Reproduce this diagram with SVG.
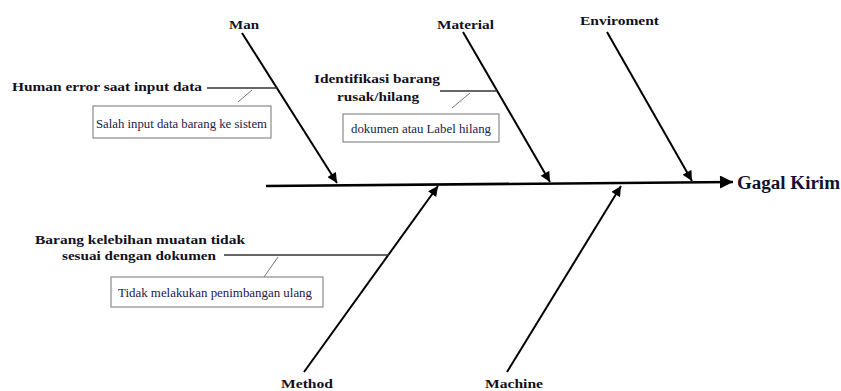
<svg xmlns="http://www.w3.org/2000/svg" width="841" height="391" viewBox="0 0 841 391">
<defs>
<marker id="ah" viewBox="0 0 10 10" refX="10" refY="5" markerWidth="5.5" markerHeight="5" orient="auto" markerUnits="strokeWidth">
<path d="M0,0 L10,5 L0,10 Z" fill="#000"/>
</marker>
</defs>
<style>
.bone{stroke:#000;stroke-width:2;fill:none}
.spine{stroke:#000;stroke-width:2.6;fill:none}
.sub{stroke:#333;stroke-width:1.3;fill:none}
.tick{stroke:#777;stroke-width:1;fill:none}
.box{fill:#fff;stroke:#8a8a8a;stroke-width:1.2}
text{font-family:"Liberation Serif","Times New Roman","DejaVu Serif",serif}
.cat{font-weight:bold;font-size:13px;fill:#111122}
.cause{font-weight:bold;font-size:13.5px;fill:#111122}
.det{font-size:11.5px;fill:#22224a}
.head{font-weight:bold;font-size:18px;fill:#111133}
</style>
<rect width="841" height="391" fill="#fff"/>
<g id="connectors">
<line class="spine" x1="266" y1="186" x2="733" y2="182" marker-end="url(#ah)"/>
<line class="bone" x1="242" y1="33" x2="337" y2="183" marker-end="url(#ah)"/>
<line class="bone" x1="463" y1="32" x2="550" y2="182" marker-end="url(#ah)"/>
<line class="bone" x1="607" y1="32" x2="692" y2="181" marker-end="url(#ah)"/>
<line class="bone" x1="304" y1="372" x2="438" y2="186" marker-end="url(#ah)"/>
<line class="bone" x1="507" y1="372" x2="621" y2="186" marker-end="url(#ah)"/>
<line class="sub" x1="207" y1="88" x2="277" y2="88"/>
<line class="tick" x1="252" y1="90" x2="238" y2="102"/>
<line class="sub" x1="440" y1="91" x2="497" y2="91"/>
<line class="tick" x1="470" y1="93" x2="452" y2="108"/>
<line class="sub" x1="224" y1="255" x2="389" y2="255"/>
<line class="tick" x1="278" y1="257" x2="264" y2="277"/>
</g>
<g id="effect">
<text class="head" x="737" y="189" textLength="103" lengthAdjust="spacingAndGlyphs">Gagal Kirim</text>
</g>
<g id="cat-man"><text class="cat" x="229" y="29" textLength="30" lengthAdjust="spacingAndGlyphs">Man</text></g>
<g id="cat-material"><text class="cat" x="437" y="29" textLength="57" lengthAdjust="spacingAndGlyphs">Material</text></g>
<g id="cat-enviroment"><text class="cat" x="580" y="25" textLength="79" lengthAdjust="spacingAndGlyphs">Enviroment</text></g>
<g id="cat-method"><text class="cat" x="281" y="388" textLength="52" lengthAdjust="spacingAndGlyphs">Method</text></g>
<g id="cat-machine"><text class="cat" x="485" y="388" textLength="58" lengthAdjust="spacingAndGlyphs">Machine</text></g>
<g id="cause-human">
<text class="cause" x="12" y="91" textLength="190" lengthAdjust="spacingAndGlyphs">Human error saat input data</text>
</g>
<g id="detail-salah">
<rect class="box" x="93" y="106" width="178" height="32"/>
<text class="det" x="96" y="128" textLength="171" lengthAdjust="spacingAndGlyphs">Salah input data barang ke sistem</text>
</g>
<g id="cause-identifikasi">
<text class="cause" x="314" y="83" textLength="126" lengthAdjust="spacingAndGlyphs">Identifikasi barang</text>
<text class="cause" x="337" y="101" textLength="82" lengthAdjust="spacingAndGlyphs">rusak/hilang</text>
</g>
<g id="detail-dokumen">
<rect class="box" x="343" y="114" width="156" height="28"/>
<text class="det" x="351" y="133" textLength="140" lengthAdjust="spacingAndGlyphs">dokumen atau Label hilang</text>
</g>
<g id="cause-barang">
<text class="cause" x="35" y="244" textLength="210" lengthAdjust="spacingAndGlyphs">Barang kelebihan muatan tidak</text>
<text class="cause" x="62" y="260" textLength="154" lengthAdjust="spacingAndGlyphs">sesuai dengan dokumen</text>
</g>
<g id="detail-tidak">
<rect class="box" x="111" y="277" width="212" height="30"/>
<text class="det" x="118" y="297" textLength="194" lengthAdjust="spacingAndGlyphs">Tidak melakukan penimbangan ulang</text>
</g>
</svg>
